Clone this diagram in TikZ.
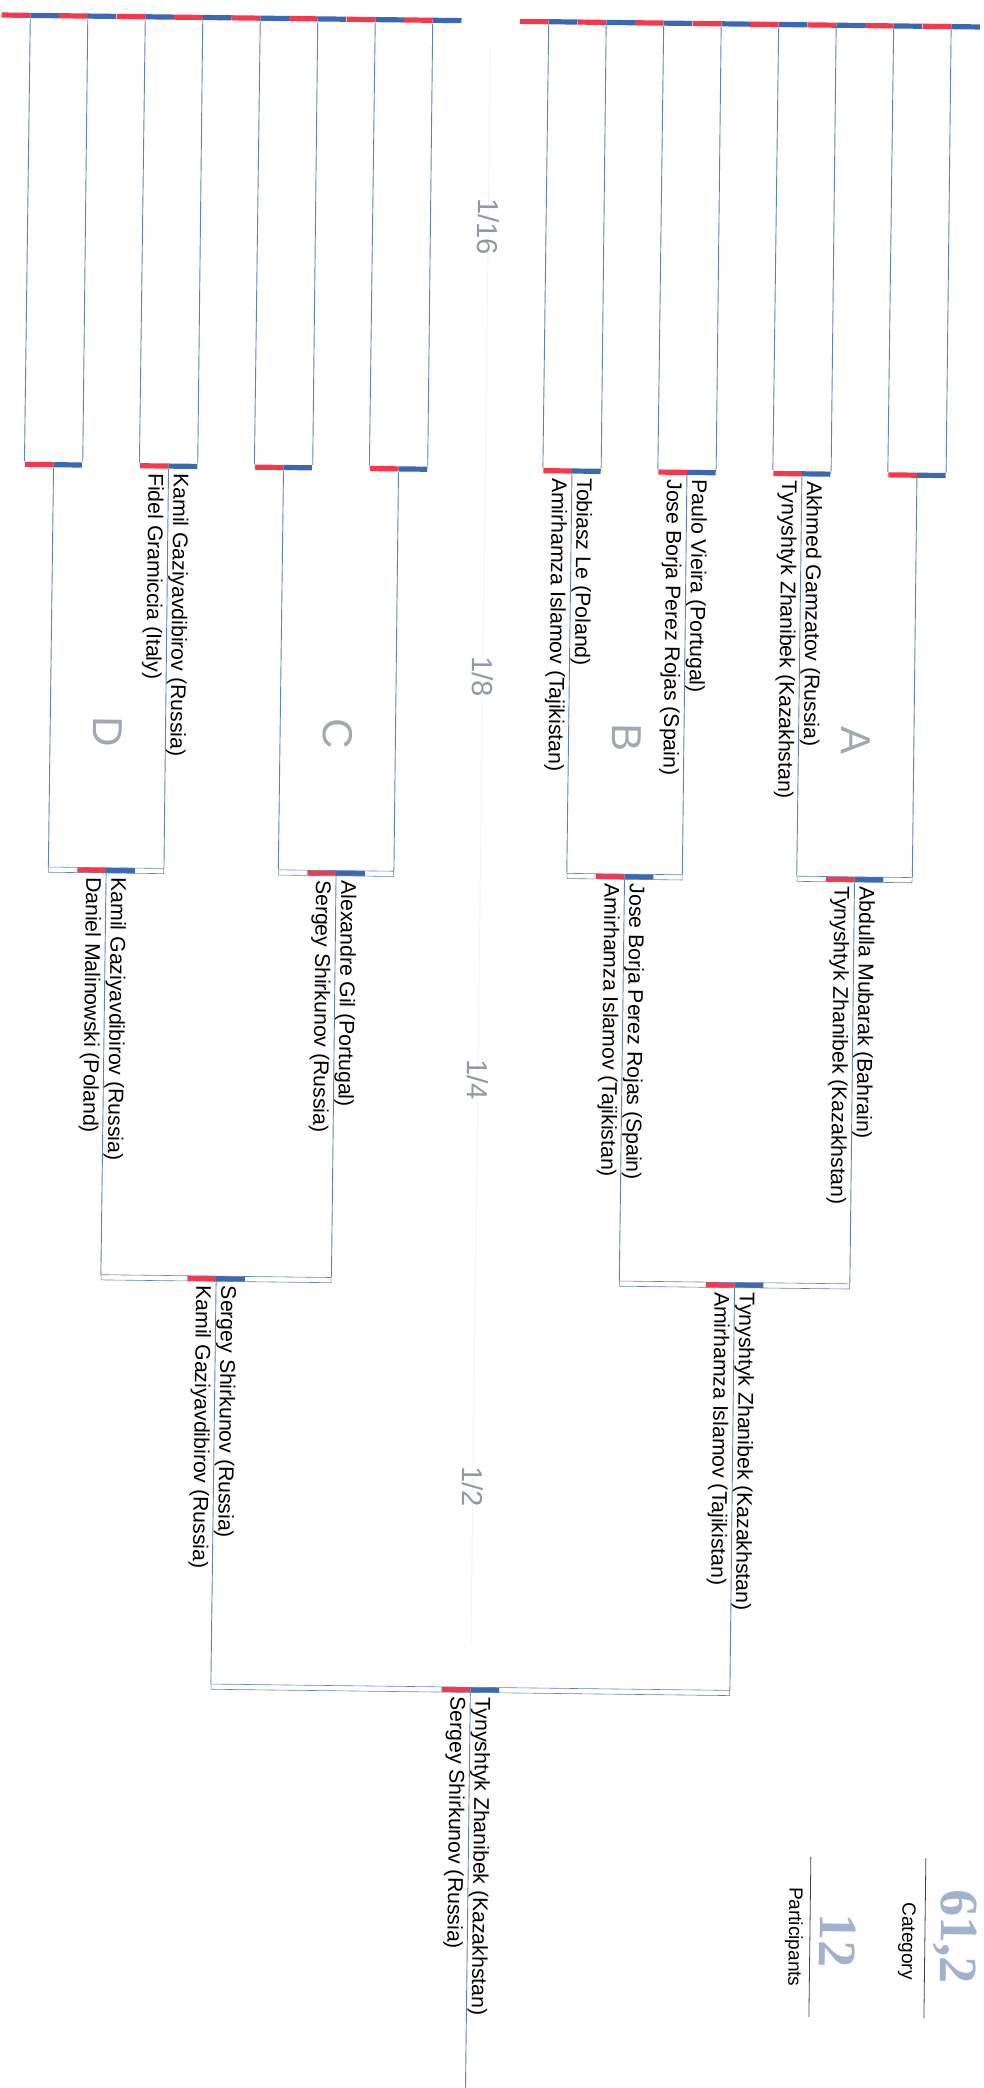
\documentclass[tikz,border=0pt]{standalone}
\usepackage{fontspec}
\setmainfont{Liberation Sans}
\newfontfamily\catfont{Liberation Serif}
\usetikzlibrary{calc, positioning}

\definecolor{redcorner}{RGB}{247,55,75}
\definecolor{bluecorner}{RGB}{58,105,178}
\definecolor{wireblue}{RGB}{95,130,185}
\definecolor{roundgray}{RGB}{145,152,165}
\definecolor{catblue}{RGB}{160,178,205}

\begin{document}
\begin{tikzpicture}[
            x=0.5pt, y=-0.5pt,
            wire/.style = {draw=wireblue, line width=0.45pt},
            fullslot/.style = {rectangle, inner sep=0pt, minimum height=2.6pt, minimum width=28.75pt,
                path picture={
                    \fill[redcorner] ([xshift=-14.375pt]path picture bounding box.south) rectangle (path picture bounding box.north);
                    \fill[bluecorner] (path picture bounding box.south) rectangle ([xshift=14.375pt]path picture bounding box.north);
                }},
            slot/.style = {fullslot, draw=wireblue, line width=0.3pt},
            fighter/.style = {rotate=-90, inner sep=0pt, font=\fontsize{10.6}{12}\selectfont},
            redname/.style = {fighter, anchor=south west},
            bluename/.style = {fighter, anchor=north west},
            roundlabel/.style = {rotate=-90, text=roundgray, font=\fontsize{14.5}{16}\selectfont},
            poollabel/.style = {rotate=-90, text=roundgray!85, font=\fontsize{21}{24}\selectfont},
            info/.style = {rotate=-90, font=\fontsize{9.5}{11}\selectfont},
            infonum/.style = {rotate=-90, text=catblue, font=\catfont\bfseries\fontsize{27}{29}\selectfont}
        ]

            \useasboundingbox (0,0) rectangle (984,2088);

            % the scan is turned by a little under one degree
            \begin{scope}[rotate=-0.7, transform shape]

            % faint middle line
            \draw[black!4, line width=0.5pt] (491,40) -- (491,1640);

            % --- 1. Top row ---
            \node [fullslot] (t1) at (30.5,15) {};
            \node [fullslot] (t2) at (88,15) {};
            \node [fullslot] (t3) at (145.5,15) {};
            \node [fullslot] (t4) at (203,15) {};
            \node [fullslot] (t5) at (260.5,15) {};
            \node [fullslot] (t6) at (318,15) {};
            \node [fullslot] (t7) at (375.5,15) {};
            \node [fullslot] (t8) at (433,15) {};
            \node [fullslot] (t9) at (549,15) {};
            \node [fullslot] (t10) at (606.5,15) {};
            \node [fullslot] (t11) at (664,15) {};
            \node [fullslot] (t12) at (721.5,15) {};
            \node [fullslot] (t13) at (779,15) {};
            \node [fullslot] (t14) at (836.5,15) {};
            \node [fullslot] (t15) at (894,15) {};
            \node [fullslot] (t16) at (951.5,15) {};

            % --- 2. Bouts ---
            \node [fullslot] (pair1) at (59.25,464) {};
            \node [fullslot] (pair2) at (174.25,464) {};
            \node [fullslot] (pair3) at (289.25,464) {};
            \node [fullslot] (pair4) at (404.25,464) {};
            \node [fullslot] (pair5) at (577.75,464) {};
            \node [fullslot] (pair6) at (692.75,464) {};
            \node [fullslot] (pair7) at (807.75,464) {};
            \node [fullslot] (pair8) at (922.75,464) {};

            \node [slot, minimum width=57.5pt] (poolD) at (116.75,869) {};
            \node [slot, minimum width=57.5pt] (poolC) at (346.75,869) {};
            \node [slot, minimum width=57.5pt] (poolB) at (635.25,869) {};
            \node [slot, minimum width=57.5pt] (poolA) at (865.25,869) {};

            \node [slot, minimum width=115pt] (semiL) at (231.75,1276) {};
            \node [slot, minimum width=115pt] (semiR) at (750.25,1276) {};

            \node [slot, minimum width=259.25pt] (final) at (491,1684) {};
            \coordinate (end) at (491,2120);

            % --- 3. Wires ---
            \draw [wire] (t1.south) -- (pair1.north west);
            \draw [wire] (t2.south) -- (pair1.north east);
            \draw [wire] (t3.south) -- (pair2.north west);
            \draw [wire] (t4.south) -- (pair2.north east);
            \draw [wire] (t5.south) -- (pair3.north west);
            \draw [wire] (t6.south) -- (pair3.north east);
            \draw [wire] (t7.south) -- (pair4.north west);
            \draw [wire] (t8.south) -- (pair4.north east);
            \draw [wire] (t9.south) -- (pair5.north west);
            \draw [wire] (t10.south) -- (pair5.north east);
            \draw [wire] (t11.south) -- (pair6.north west);
            \draw [wire] (t12.south) -- (pair6.north east);
            \draw [wire] (t13.south) -- (pair7.north west);
            \draw [wire] (t14.south) -- (pair7.north east);
            \draw [wire] (t15.south) -- (pair8.north west);
            \draw [wire] (t16.south) -- (pair8.north east);

            \draw [wire] (pair1.south) -- (poolD.north west);
            \draw [wire] (pair2.south) -- (poolD.north east);
            \draw [wire] (pair3.south) -- (poolC.north west);
            \draw [wire] (pair4.south) -- (poolC.north east);
            \draw [wire] (pair5.south) -- (poolB.north west);
            \draw [wire] (pair6.south) -- (poolB.north east);
            \draw [wire] (pair7.south) -- (poolA.north west);
            \draw [wire] (pair8.south) -- (poolA.north east);

            \draw [wire] (poolD.south) -- (semiL.north west);
            \draw [wire] (poolC.south) -- (semiL.north east);
            \draw [wire] (poolB.south) -- (semiR.north west);
            \draw [wire] (poolA.south) -- (semiR.north east);

            \draw [wire] (semiL.south) -- (final.north west);
            \draw [wire] (semiR.south) -- (final.north east);
            \draw [wire] (final.south) -- (end);

            % --- 4. Names ---
            \node [redname] (p2red) at ($(pair2.south)+(0.5,4)$) {Kamil Gaziyavdibirov (Russia)};
            \node [bluename] (p2blue) at ($(pair2.south)+(-4,4)$) {Fidel Gramiccia (Italy)};
            \node [redname] (p5red) at ($(pair5.south)+(0.5,4)$) {Tobiasz Le (Poland)};
            \node [bluename] (p5blue) at ($(pair5.south)+(-4,4)$) {Amirhamza Islamov (Tajikistan)};
            \node [redname] (p6red) at ($(pair6.south)+(0.5,4)$) {Paulo Vieira (Portugal)};
            \node [bluename] (p6blue) at ($(pair6.south)+(-4,4)$) {Jose Borja Perez Rojas (Spain)};
            \node [redname] (p7red) at ($(pair7.south)+(0.5,4)$) {Akhmed Gamzatov (Russia)};
            \node [bluename] (p7blue) at ($(pair7.south)+(-4,4)$) {Tynyshtyk Zhanibek (Kazakhstan)};

            \node [redname] (dred) at ($(poolD.south)+(0.5,4)$) {Kamil Gaziyavdibirov (Russia)};
            \node [bluename] (dblue) at ($(poolD.south)+(-4,4)$) {Daniel Malinowski (Poland)};
            \node [redname] (cred) at ($(poolC.south)+(0.5,4)$) {Alexandre Gil (Portugal)};
            \node [bluename] (cblue) at ($(poolC.south)+(-4,4)$) {Sergey Shirkunov (Russia)};
            \node [redname] (bred) at ($(poolB.south)+(0.5,4)$) {Jose Borja Perez Rojas (Spain)};
            \node [bluename] (bblue) at ($(poolB.south)+(-4,4)$) {Amirhamza Islamov (Tajikistan)};
            \node [redname] (ared) at ($(poolA.south)+(0.5,4)$) {Abdulla Mubarak (Bahrain)};
            \node [bluename] (ablue) at ($(poolA.south)+(-4,4)$) {Tynyshtyk Zhanibek (Kazakhstan)};

            \node [redname] (lred) at ($(semiL.south)+(0.5,4)$) {Sergey Shirkunov (Russia)};
            \node [bluename] (lblue) at ($(semiL.south)+(-4,4)$) {Kamil Gaziyavdibirov (Russia)};
            \node [redname] (rred) at ($(semiR.south)+(0.5,4)$) {Tynyshtyk Zhanibek (Kazakhstan)};
            \node [bluename] (rblue) at ($(semiR.south)+(-4,4)$) {Amirhamza Islamov (Tajikistan)};

            \node [redname] (fred) at ($(final.south)+(0.5,4)$) {Tynyshtyk Zhanibek (Kazakhstan)};
            \node [bluename] (fblue) at ($(final.south)+(-4,4)$) {Sergey Shirkunov (Russia)};

            % --- 5. Round and pool labels ---
            \node [roundlabel] (r16) at (491,221) {1/16};
            \node [roundlabel] (r8) at (491,671) {1/8};
            \node [roundlabel] (r4) at (491,1074) {1/4};
            \node [roundlabel] (r2) at (491,1481) {1/2};

            \node [poollabel] (letD) at (116.75,730) {D};
            \node [poollabel] (letC) at (346.75,730) {C};
            \node [poollabel] (letB) at (635.25,730) {B};
            \node [poollabel] (letA) at (865.25,730) {A};

            % --- 6. Category box ---
            \draw [black!75, line width=0.4pt] (948.5,1847) -- (948.5,2007);
            \draw [black!75, line width=0.4pt] (833.5,1847) -- (833.5,2007);
            \node [infonum] (weight) at (978.5,1925) {61,2};
            \node [info] (category) at (930.5,1930) {Category};
            \node [infonum] (count) at (861.5,1930) {12};
            \node [info] (participants) at (817.5,1927) {Participants};

            \end{scope}

        \end{tikzpicture}
\end{document}
